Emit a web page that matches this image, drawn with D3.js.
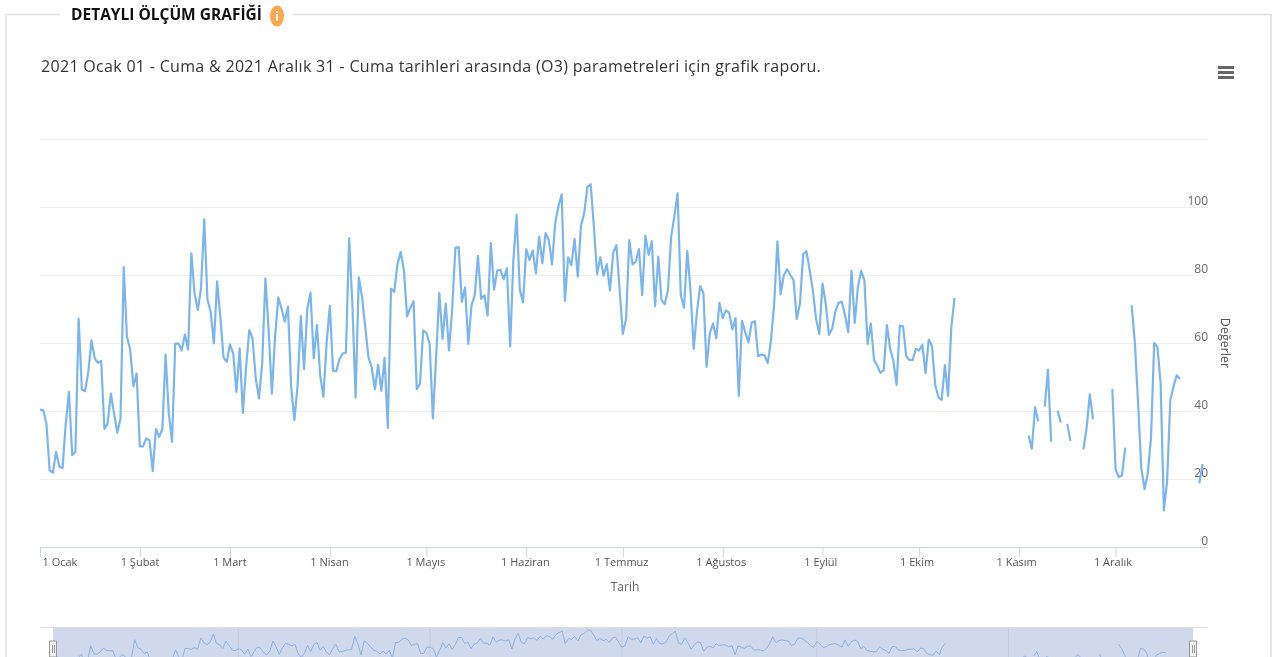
<!DOCTYPE html>
<html>
<head>
<meta charset="utf-8">
<script src="https://cdn.jsdelivr.net/npm/d3@7/dist/d3.min.js"></script>
<style>
  html, body { margin: 0; padding: 0; background: #fff; overflow: hidden; }
  text { font-family: "Open Sans", sans-serif; }
  /* the reference is a slightly soft screenshot */
  svg { filter: blur(0.45px); }
</style>
</head>
<body>
<div id="chart"></div>
<script>
const panelTitle = 'DETAYLI ÖLÇÜM GRAFİĞİ';
const chartTitle = '2021 Ocak 01 - Cuma & 2021 Aralık 31 - Cuma tarihleri arasında (O3) parametreleri için grafik raporu.';
const xTitle = 'Tarih';
const yTitle = 'Değerler';
const monthNames = ['Ocak', 'Şubat', 'Mart', 'Nisan', 'Mayıs', 'Haziran', 'Temmuz', 'Ağustos', 'Eylül', 'Ekim', 'Kasım', 'Aralık'];
const yTicks = [0, 20, 40, 60, 80, 100, 120];
const yLabelMax = 100;

// daily O3, null where the station has no data
const o3Values = [
  40.4, 40.2, 36.3, 22.5, 21.9, 28, 23.7, 23.2, 36.3, 45.6,
  27, 28, 67.2, 46.3, 45.8, 51.5, 60.8, 55.4, 54.2, 54.7,
  34.7, 36.3, 45.1, 39.3, 33.6, 37.8, 82.3, 61.8, 58.1, 47.3,
  51, 29.6, 29.6, 31.9, 31.4, 22.3, 34.7, 32.4, 34.7, 56.6,
  39.3, 30.9, 59.8, 59.8, 57.9, 62.5, 58.1, 86.4, 74.6, 69.7,
  76.1, 96.4, 72.8, 69.2, 59.9, 78.1, 67.7, 55.7, 54.5, 59.6,
  56.9, 45.6, 58.4, 39.4, 53, 63.8, 61.4, 49.6, 43.7, 54,
  79, 63.8, 45.1, 61.8, 73.4, 70.2, 66.3, 70.7, 47.1, 37.3,
  47.6, 67.9, 52.3, 69.9, 74.8, 55.5, 65.3, 50.6, 44.2, 59.9,
  70.9, 51.8, 51.7, 55.2, 56.9, 57.2, 90.8, 71.6, 44, 79.3,
  73.6, 64.7, 55.8, 52.8, 46.4, 53.6, 45.9, 55.6, 35, 76,
  75, 83.2, 86.8, 81.5, 67.8, 70.4, 72.3, 46.4, 48, 63.7,
  63, 59.7, 37.8, 55.8, 74.7, 61.2, 71.6, 57.8, 70, 88,
  88.2, 72.1, 76.3, 59.7, 71.1, 74, 85.6, 73, 74, 68.1,
  89.4, 75.7, 81.3, 81.5, 78.7, 82, 59, 84.4, 97.7, 75.7,
  71.9, 87.6, 84.4, 87.2, 80.5, 91.3, 83.4, 92.3, 90.3, 83.1,
  95.3, 100.2, 103.7, 72.4, 85.2, 82.9, 90.6, 79.5, 94.5, 98.2,
  105.9, 106.7, 94.3, 80.3, 85.2, 79.8, 83.2, 75.5, 86.6, 88.8,
  75.5, 62.7, 67.1, 90.3, 83.1, 83.9, 87.6, 74.1, 91.6, 85.9,
  89.9, 70.8, 85.4, 72.6, 71.4, 75.5, 91.3, 97.3, 104, 74,
  70.4, 87.1, 75.5, 58.3, 69.1, 76.7, 74.8, 53, 62.9, 65.7,
  61.4, 71.8, 67.3, 69.6, 68.9, 64, 67.3, 44.4, 66.5, 63.2,
  60.2, 66, 66.4, 56.1, 56.6, 56.4, 54.1, 60.7, 71.6, 89.9,
  74.3, 80, 81.7, 80, 78.5, 67, 71.6, 86.1, 87, 81.5,
  75.5, 67.1, 62.7, 77.5, 71.6, 62.4, 64.2, 69.3, 71.8, 72.1,
  68.1, 63.2, 81.3, 65.9, 76.5, 81.2, 78.5, 59.7, 65.7, 55,
  53.3, 51.2, 52, 65.3, 58.3, 54.8, 47.7, 65.1, 64.9, 56.1,
  55, 55, 58.3, 57.8, 59.5, 51.1, 61, 59.1, 47.7, 44,
  43.3, 53.5, 44.4, 64.7, 73.3, null, null, null, null, null,
  null, null, null, null, null, null, null, null, null, null,
  null, null, null, null, null, null, null, 32.8, 28.9, 41.1,
  36.9, null, 41.3, 52.1, 31, null, 40.1, 36.6, null, 36.2,
  31.2, null, null, null, 28.7, 34.9, 44.9, 37.6, null, null,
  null, null, null, 46.5, 22.9, 20.6, 21.1, 29.2, null, 71.1,
  60, 42.3, 23.1, 17, 21.6, 32, 60, 58.8, 48.2, 10.8,
  19.2, 43.2, 47.2, 50.5, 49.4, null, null, null, null, null,
  18.7, 24.4
];

const width = 1277, height = 657;
const margin = { top: 139, right: 69, bottom: 110, left: 40 };
const lineColor = '#7cb5ec';

const svg = d3.select('#chart').append('svg')
  .attr('width', width).attr('height', height)
  .style('display', 'block');

// fieldset style frame around the chart
svg.append('path')
  .attr('d', 'M60,14.5H6V657M293,14.5H1271V657')
  .attr('fill', 'none').attr('stroke', '#e0e0e0').attr('stroke-width', 1.5);

svg.append('text')
  .attr('x', 71).attr('y', 20)
  .style('font-size', '15.5px').style('font-weight', 'bold').attr('fill', '#111')
  .text(panelTitle);

svg.append('ellipse')
  .attr('cx', 277).attr('cy', 16).attr('rx', 7).attr('ry', 10.5)
  .attr('fill', '#f9a852');
svg.append('text')
  .attr('x', 277).attr('y', 21)
  .attr('text-anchor', 'middle')
  .style('font-size', '12px').style('font-weight', 'bold').attr('fill', '#fff')
  .text('i');

svg.append('text')
  .attr('x', 41).attr('y', 72)
  .style('font-size', '16px').style('letter-spacing', '0.31px').attr('fill', '#333')
  .text(chartTitle);

// export menu
svg.append('g').selectAll('rect')
  .data([66, 71, 76])
  .enter().append('rect')
  .attr('x', 1218).attr('y', d => d)
  .attr('width', 16).attr('height', 3)
  .attr('fill', '#666');

const dates = o3Values.map((d, i) => d3.timeDay.offset(new Date(2021, 0, 1), i));
const points = o3Values.map((d, i) => ({ date: dates[i], value: d }));
const domainEnd = new Date(2021, 11, 29, 17);

const x = d3.scaleTime()
  .domain([new Date(2021, 0, 1), domainEnd])
  .range([margin.left, width - margin.right]);

const y = d3.scaleLinear()
  .domain([0, 120])
  .range([height - margin.bottom, margin.top]);

// grid and right hand labels
const yAxis = svg.append('g')
  .attr('transform', `translate(${width - margin.right}, 0)`)
  .call(d3.axisLeft(y)
    .tickValues(yTicks)
    .tickSize(width - margin.left - margin.right)
    .tickFormat(d => (d <= yLabelMax ? d : '')));
yAxis.select('.domain').remove();
yAxis.selectAll('line').attr('stroke', '#eeeeee');
yAxis.selectAll('text')
  .attr('x', 0).attr('dy', -2.6)
  .attr('text-anchor', 'end')
  .style('font-size', '12px').attr('fill', '#666');

svg.append('text')
  .attr('transform', `translate(1220.5, ${y(60)}) rotate(90)`)
  .attr('text-anchor', 'middle')
  .style('font-size', '12.5px').attr('fill', '#555')
  .text(yTitle);

const xAxis = svg.append('g')
  .attr('transform', `translate(0, ${height - margin.bottom})`)
  .call(d3.axisBottom(x)
    .ticks(d3.timeMonth.every(1))
    .tickSize(10)
    .tickPadding(1)
    .tickFormat(d => `1 ${monthNames[d.getMonth()]}`));
xAxis.select('.domain').attr('stroke', '#ccd6eb').attr('d', `M${margin.left},0.5H${width - margin.right}`);
xAxis.selectAll('line').attr('stroke', '#ccd6eb');
xAxis.selectAll('text')
  .attr('x', d => -d.getMonth() * 0.28)
  .style('font-size', '11px').attr('fill', '#555');
xAxis.select('.tick text')
  .attr('text-anchor', 'start').attr('x', 2);

svg.append('text')
  .attr('x', 625).attr('y', 591)
  .attr('text-anchor', 'middle')
  .style('font-size', '12px').attr('fill', '#666')
  .text(xTitle);

const line = d3.line()
  .defined(d => d.value !== null)
  .x(d => x(d.date))
  .y(d => y(d.value));

svg.append('path')
  .datum(points)
  .attr('d', line)
  .attr('fill', 'none')
  .attr('stroke', lineColor)
  .attr('stroke-width', 2.2)
  .attr('stroke-linejoin', 'round');

// navigator at the bottom, runs off the page like in the screenshot
const navX = d3.scaleTime()
  .domain([new Date(2021, 0, 1), domainEnd])
  .range([53, 1193]);
const navY = d3.scaleLinear()
  .domain([d3.min(o3Values), d3.max(o3Values)])
  .range([668, 630]);

svg.append('line')
  .attr('x1', margin.left).attr('x2', width - margin.right)
  .attr('y1', 627.5).attr('y2', 627.5)
  .attr('stroke', '#dcdcdc');

svg.append('rect')
  .attr('x', navX.range()[0]).attr('y', 628)
  .attr('width', navX.range()[1] - navX.range()[0]).attr('height', 29)
  .attr('fill', '#d0d9eb');

svg.append('g').selectAll('line')
  .data(d3.timeMonth.range(new Date(2021, 2, 1), new Date(2021, 11, 1), 2))
  .enter().append('line')
  .attr('x1', d => navX(d)).attr('x2', d => navX(d))
  .attr('y1', 628).attr('y2', 657)
  .attr('stroke', '#c3ccdf');

svg.append('path')
  .datum(points)
  .attr('d', d3.line()
    .defined(d => d.value !== null)
    .x(d => navX(d.date))
    .y(d => navY(d.value)))
  .attr('fill', 'none')
  .attr('stroke', '#8db1e2')
  .attr('stroke-width', 1);

const handles = svg.append('g').selectAll('g')
  .data(navX.range())
  .enter().append('g')
  .attr('transform', d => `translate(${d}, 641)`);
handles.append('rect')
  .attr('x', -3.5).attr('y', 0).attr('width', 7).attr('height', 16)
  .attr('fill', '#f2f2f2').attr('stroke', '#999');
handles.selectAll('line')
  .data([-1, 1])
  .enter().append('line')
  .attr('x1', d => d + 0.5).attr('x2', d => d + 0.5)
  .attr('y1', 4).attr('y2', 12)
  .attr('stroke', '#999');
</script>
</body>
</html>
